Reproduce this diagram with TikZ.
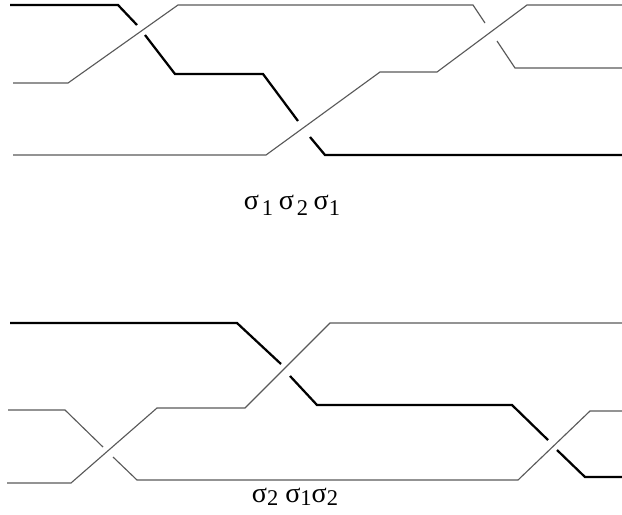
\documentclass[tikz,border=0pt]{standalone}
\usepackage{fontspec}
\setmainfont{Liberation Serif}
\usepackage{tikz}
\usetikzlibrary{positioning}
\tikzset{>=latex}
\definecolor{strandgray}{rgb}{0.35, 0.35, 0.35}
\tikzset{strandthick/.style={black, line width=1.6pt, line join=miter},
  strandthin/.style={strandgray, line width=0.8pt, line join=miter},
  wordlabel/.style={font=\fontsize{20}{22}\selectfont, inner sep=0pt}}
% lowered index of a generator: [drop]{index}
\newcommand{\sgidx}[2][4pt]{\raisebox{-#1}{\fontsize{16}{16}\selectfont #2}}

\begin{document}
\begin{tikzpicture}[x=0.025cm, y=-0.025cm]
        \useasboundingbox (0, 0) rectangle (622, 514); %
        % first word
        \draw[strandthick] (10, 5) -- (118, 5) -- (137, 25); %
        \draw[strandthick] (145, 35) -- (175, 74) -- (263, 74) -- (298,
        121); %
        \draw[strandthick] (310, 137) -- (325, 155) -- (622, 155); %
        \draw[strandthin] (13, 83) -- (68, 83) -- (178, 5) -- (473, 5)
        -- (485, 23); %
        \draw[strandthin] (497, 41) -- (515, 68) -- (622, 68); %
        \draw[strandthin] (13, 155) -- (266, 155) -- (380, 72) -- (437,
        72) -- (527, 5) -- (622, 5); %
        \node[wordlabel] (topword) at (292, 205)
        {σ\kern2pt\sgidx{1}\kern4pt σ\kern2pt\sgidx{2}\kern4pt
          σ\sgidx{1}}; %
        % second word
        \draw[strandthick] (10, 323) -- (237, 323) -- (281, 364); %
        \draw[strandthick] (290, 376) -- (317, 405) -- (512, 405) --
        (548, 440); %
        \draw[strandthick] (557, 450) -- (585, 477) -- (622, 477); %
        \draw[strandthin] (8, 410) -- (65, 410) -- (103, 447); %
        \draw[strandthin] (113, 457) -- (137, 480) -- (518, 480) --
        (590, 411) -- (622, 411); %
        \draw[strandthin] (7, 483) -- (71, 483) -- (157, 408) -- (245,
        408) -- (330, 323) -- (622, 323); %
        \node[wordlabel] (bottomword) at (295, 497)
        {σ\sgidx[2pt]{2}\kern5pt σ\sgidx[2pt]{1}σ\sgidx[2pt]{2}}; %
\end{tikzpicture}
\end{document}
